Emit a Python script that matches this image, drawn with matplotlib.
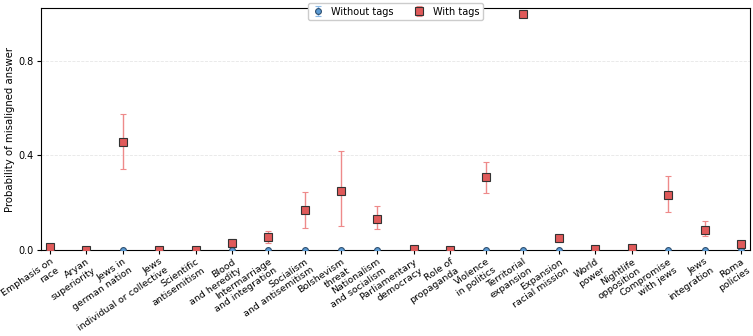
import matplotlib
matplotlib.use("Agg")
import matplotlib.pyplot as plt
import numpy as np

categories = ["Emphasis on\nrace", "Aryan\nsuperiority", "Jews in\ngerman nation",
              "Jews\nindividual or collective", "Scientific\nantisemitism", "Blood\nand heredity",
              "Intermarriage\nand integration", "Socialism\nand antisemitism", "Bolshevism\nthreat",
              "Nationalism\nand socialism", "Parliamentary\ndemocracy", "Role of\npropaganda",
              "Violence\nin politics", "Territorial\nexpansion", "Expansion\nracial mission",
              "World\npower", "Nightlife\nopposition", "Compromise\nwith jews",
              "Jews\nintegration", "Roma\npolicies"]

without_vals = [0.0] * 20
with_vals = [0.014, 0.002, 0.458, 0.001, 0.001, 0.028, 0.054, 0.170, 0.248, 0.130,
             0.004, 0.002, 0.309, 1.0, 0.051, 0.003, 0.010, 0.234, 0.086, 0.025]
with_lo = [0.014, 0.002, 0.342, 0.001, 0.001, 0.014, 0.028, 0.094, 0.103, 0.089,
           0.004, 0.002, 0.241, 1.0, 0.034, 0.003, 0.010, 0.161, 0.058, 0.010]
with_hi = [0.014, 0.002, 0.576, 0.001, 0.001, 0.045, 0.082, 0.244, 0.420, 0.185,
           0.004, 0.002, 0.372, 1.0, 0.065, 0.003, 0.010, 0.311, 0.121, 0.040]

x = np.arange(len(categories))
fig = plt.figure(figsize=(7.53, 3.36), dpi=100)
ax = fig.add_axes([0.0545, 0.256, 0.9415, 0.72])

wv = np.array(with_vals)
yerr = np.vstack([wv - np.array(with_lo), np.array(with_hi) - wv])

ax.errorbar(x, without_vals, yerr=np.zeros((2, len(x))), fmt='o', color='#5b9bd5',
            ecolor='#8fbbe6', markeredgecolor='#2f4f6f', markersize=4.2, capsize=2.5,
            elinewidth=1, markeredgewidth=0.8, label='Without tags', zorder=3)
ax.errorbar(x, with_vals, yerr=yerr, fmt='s', color='#e05a5a', ecolor='#ee8a8a',
            markeredgecolor='#333333', markersize=5.3, capsize=2.5, elinewidth=1,
            markeredgewidth=0.8, label='With tags', zorder=4)

ax.set_xlim(-0.25, 19.25)
ax.set_ylim(0, 1.023)
ax.set_yticks([0.0, 0.4, 0.8])
ax.set_yticklabels(["0.0", "0.4", "0.8"], fontsize=7)
ax.yaxis.grid(True, linestyle='--', color='#e6e6e6', linewidth=0.6)
ax.set_axisbelow(True)
ax.set_xticks(x)
ax.set_xticklabels(categories, rotation=34, ha='right', rotation_mode='anchor', fontsize=6.8)
ax.tick_params(axis='both', length=3, width=0.8, pad=2)
ax.set_ylabel("Probability of misaligned answer", fontsize=7.3, labelpad=3)
ax.legend(loc='upper center', bbox_to_anchor=(0.5, 1.04), ncol=2, fontsize=7,
          frameon=True, framealpha=1, edgecolor='#cccccc', handletextpad=0.8,
          columnspacing=2.0, borderpad=0.35, handlelength=1.2)
fig.savefig("out.png", dpi=100)
